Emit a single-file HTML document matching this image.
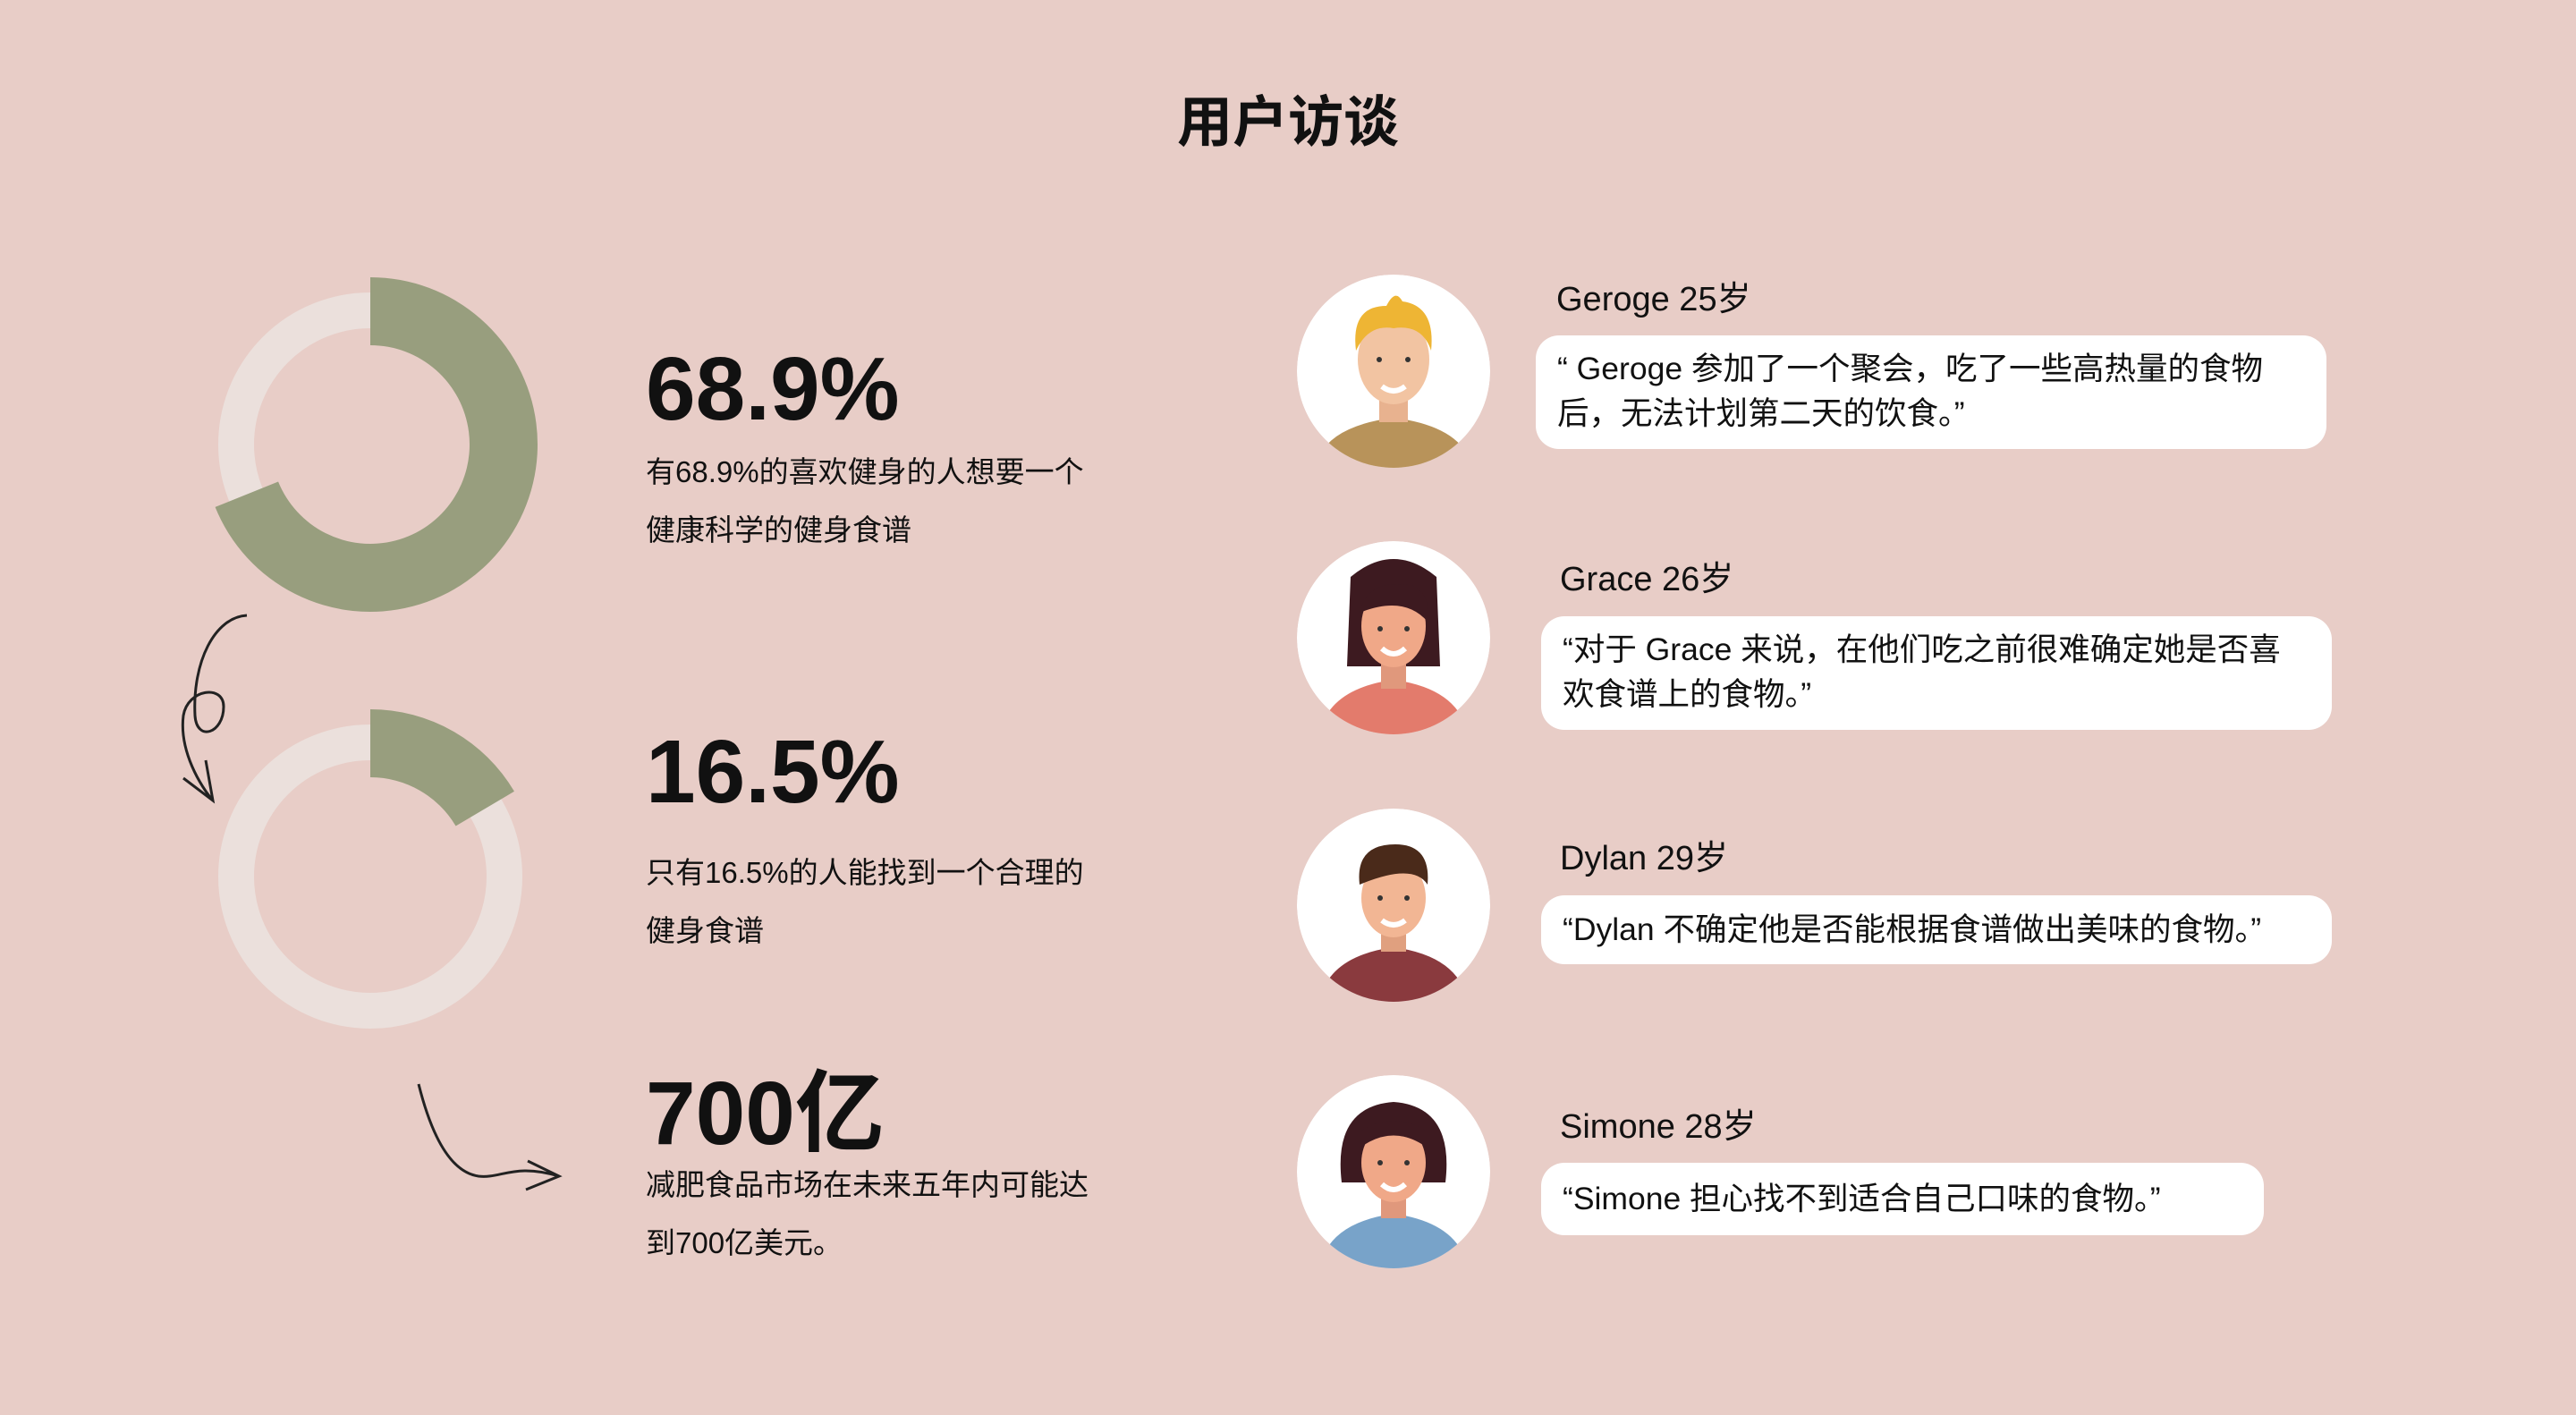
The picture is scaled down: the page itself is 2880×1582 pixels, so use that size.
<!DOCTYPE html>
<html><head><meta charset="utf-8">
<style>
html,body{margin:0;padding:0}
body{width:2880px;height:1582px;background:#e8cdc7;position:relative;overflow:hidden;font-family:"Liberation Sans","Noto Sans CJK SC",sans-serif;color:#111}
.a{position:absolute;white-space:nowrap}
.big{font-weight:bold;font-size:100px;line-height:1}
.sub{font-size:33px;line-height:65px}
.name{font-size:38px}
.bub{position:absolute;background:#fff;border-radius:26px;font-size:35.5px;line-height:50px;padding:0 24px;box-sizing:border-box}
</style></head><body>
<div class="a" style="left:0;width:2880px;text-align:center;top:86px;font-size:62px;font-weight:bold">用户访谈</div>

<svg id="charts" width="900" height="1582" style="position:absolute;left:0;top:0">
<g id="donuts"></g>
<path d="M276 688 C240 690 215 740 218 800 C220 830 250 820 250 790 C250 765 210 770 205 800 C200 840 225 880 238 895 M205 870 L238 895 L230 850" fill="none" stroke="#222" stroke-width="3"/>
<path d="M468 1212 C480 1260 500 1310 535 1315 C560 1318 575 1300 625 1315 M590 1298 L625 1315 L588 1330" fill="none" stroke="#222" stroke-width="3"/>
</svg>

<div class="a big" style="left:722px;top:385px">68.9%</div>
<div class="a sub" style="left:722px;top:495px">有68.9%的喜欢健身的人想要一个<br>健康科学的健身食谱</div>
<div class="a big" style="left:722px;top:813px">16.5%</div>
<div class="a sub" style="left:722px;top:943px">只有16.5%的人能找到一个合理的<br>健身食谱</div>
<div class="a big" style="left:722px;top:1195px">700亿</div>
<div class="a sub" style="left:722px;top:1292px">减肥食品市场在未来五年内可能达<br>到700亿美元。</div>

<svg width="216" height="216" viewBox="0 0 216 216" style="position:absolute;left:1450px;top:307px">
<clipPath id="c1"><circle cx="108" cy="108" r="108"/></clipPath><g clip-path="url(#c1)"><circle cx="108" cy="108" r="108" fill="#fff"/>
<path d="M20 216 Q30 170 108 160 Q186 170 196 216Z" fill="#b8935a"/><rect x="92" y="120" width="32" height="45" fill="#e8b28f"/>
<ellipse cx="108" cy="95" rx="40" ry="50" fill="#f2c4a2"/><path d="M66 85 Q60 35 100 35 Q110 15 118 30 Q155 35 150 85 Q140 55 108 60 Q80 55 66 85Z" fill="#eeb534"/><path d="M95 125 Q108 135 121 125" stroke="#fff" stroke-width="6" fill="none"/>
<circle cx="92" cy="95" r="3" fill="#333"/><circle cx="124" cy="95" r="3" fill="#333"/></g></svg>
<svg width="216" height="216" viewBox="0 0 216 216" style="position:absolute;left:1450px;top:605px">
<clipPath id="c2"><circle cx="108" cy="108" r="108"/></clipPath><g clip-path="url(#c2)"><circle cx="108" cy="108" r="108" fill="#fff"/>
<path d="M60 40 Q108 0 156 40 L160 140 L56 140Z" fill="#3d1a20"/>
<path d="M25 216 Q35 165 108 155 Q181 165 191 216Z" fill="#e37b6c"/><rect x="94" y="120" width="28" height="45" fill="#e0987c"/>
<ellipse cx="108" cy="95" rx="36" ry="46" fill="#f0a888"/><path d="M70 80 Q80 40 130 50 Q150 60 146 90 Q120 60 70 80Z" fill="#3d1a20"/><path d="M95 120 Q108 132 121 120" stroke="#fff" stroke-width="6" fill="none"/>
<circle cx="93" cy="98" r="3" fill="#333"/><circle cx="123" cy="98" r="3" fill="#333"/></g></svg>
<svg width="216" height="216" viewBox="0 0 216 216" style="position:absolute;left:1450px;top:904px">
<clipPath id="c3"><circle cx="108" cy="108" r="108"/></clipPath><g clip-path="url(#c3)"><circle cx="108" cy="108" r="108" fill="#fff"/>
<path d="M25 216 Q35 165 108 155 Q181 165 191 216Z" fill="#8a3a3e"/><rect x="94" y="120" width="28" height="40" fill="#e0a07f"/>
<ellipse cx="108" cy="100" rx="36" ry="44" fill="#f2b694"/><path d="M70 85 Q65 40 110 40 Q150 40 146 85 Q130 60 70 85Z" fill="#4a2a1a"/><path d="M95 125 Q108 135 121 125" stroke="#fff" stroke-width="6" fill="none"/>
<circle cx="93" cy="100" r="3" fill="#333"/><circle cx="123" cy="100" r="3" fill="#333"/></g></svg>
<svg width="216" height="216" viewBox="0 0 216 216" style="position:absolute;left:1450px;top:1202px">
<clipPath id="c4"><circle cx="108" cy="108" r="108"/></clipPath><g clip-path="url(#c4)"><circle cx="108" cy="108" r="108" fill="#fff"/>
<path d="M50 120 Q40 35 108 30 Q176 35 166 120 Z" fill="#3d1a20"/>
<path d="M25 216 Q35 165 108 155 Q181 165 191 216Z" fill="#78a3c9"/><rect x="94" y="120" width="28" height="40" fill="#e0987c"/>
<ellipse cx="108" cy="98" rx="36" ry="44" fill="#f0a888"/><path d="M72 80 Q108 55 144 80 L144 62 Q108 40 72 62Z" fill="#3d1a20"/><path d="M95 122 Q108 134 121 122" stroke="#fff" stroke-width="6" fill="none"/>
<circle cx="93" cy="98" r="3" fill="#333"/><circle cx="123" cy="98" r="3" fill="#333"/></g></svg>

<div class="a name" style="left:1740px;top:303px">Geroge 25岁</div>
<div class="bub" style="left:1717px;top:375px;width:884px;height:127px;padding-top:12px">“ Geroge 参加了一个聚会，吃了一些高热量的食物<br>后，无法计划第二天的饮食。”</div>
<div class="a name" style="left:1744px;top:616px">Grace 26岁</div>
<div class="bub" style="left:1723px;top:689px;width:884px;height:127px;padding-top:12px">“对于 Grace 来说，在他们吃之前很难确定她是否喜<br>欢食谱上的食物。”</div>
<div class="a name" style="left:1744px;top:928px">Dylan 29岁</div>
<div class="bub" style="left:1723px;top:1001px;width:884px;height:77px;padding-top:13px">“Dylan 不确定他是否能根据食谱做出美味的食物。”</div>
<div class="a name" style="left:1744px;top:1228px">Simone 28岁</div>
<div class="bub" style="left:1723px;top:1300px;width:808px;height:81px;padding-top:15px">“Simone 担心找不到适合自己口味的食物。”</div>

<script>
const donutLabels = ["liked-recipe", "found-recipe"];
const donutValues = [68.9, 16.5];
const donutMax = 100;
const g = document.getElementById('donuts');
const NS = 'http://www.w3.org/2000/svg';
const centers = [[414, 497], [414, 980]];
function ang(v){ return v / donutMax * 2 * Math.PI; }
function pt(cx, cy, r, a){ return [cx + r * Math.sin(a), cy - r * Math.cos(a)]; }
function arc(cx, cy, r0, r1, v){
  const a = ang(Math.min(v, donutMax - 0.01)), large = a > Math.PI ? 1 : 0;
  const p1 = pt(cx, cy, r1, 0), p2 = pt(cx, cy, r1, a), p3 = pt(cx, cy, r0, a), p4 = pt(cx, cy, r0, 0);
  return `M${p1} A${r1} ${r1} 0 ${large} 1 ${p2} L${p3} A${r0} ${r0} 0 ${large} 0 ${p4}Z`;
}
donutValues.forEach((v, i) => {
  const [cx, cy] = centers[i];
  const bg = document.createElementNS(NS, 'circle');
  bg.setAttribute('cx', cx); bg.setAttribute('cy', cy); bg.setAttribute('r', 150);
  bg.setAttribute('fill', 'none'); bg.setAttribute('stroke', '#ebe0dc'); bg.setAttribute('stroke-width', 40);
  
  
  g.appendChild(bg);
  const p = document.createElementNS(NS, 'path');
  p.setAttribute('d', arc(cx, cy, 111, 187, v));
  p.setAttribute('fill', '#989e7e');
  
  
  g.appendChild(p);
});
</script>
</body></html>
